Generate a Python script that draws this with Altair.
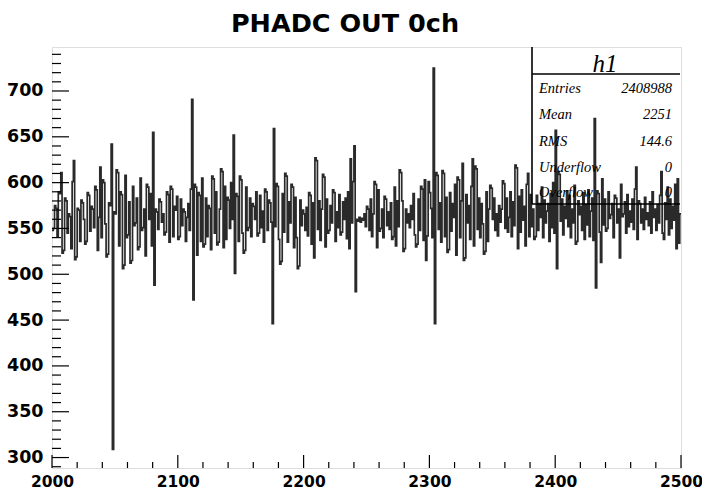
import altair as alt
import pandas as pd

# ---- data (bin lower edges 2000..2499, contents) ----
counts = [
    548, 550, 575, 572, 541, 590, 588, 611, 523, 526,
    583, 580, 545, 566, 563, 528, 601, 624, 516, 519,
    572, 570, 536, 581, 578, 560, 533, 536, 589, 586,
    547, 574, 571, 551, 596, 592, 526, 562, 617, 540,
    603, 600, 555, 519, 522, 578, 575, 642, 309, 568,
    566, 614, 611, 531, 590, 587, 506, 510, 608, 540,
    543, 579, 512, 515, 596, 553, 556, 583, 527, 530,
    605, 548, 551, 571, 520, 598, 595, 560, 588, 531,
    655, 488, 571, 568, 549, 582, 579, 557, 566, 543,
    546, 590, 587, 535, 596, 593, 541, 574, 570, 585,
    538, 541, 582, 553, 571, 568, 536, 562, 577, 548,
    593, 691, 472, 598, 595, 521, 589, 586, 536, 605,
    530, 533, 583, 541, 575, 572, 527, 607, 604, 545,
    590, 532, 535, 571, 615, 612, 529, 596, 538, 584,
    581, 550, 600, 560, 652, 501, 588, 585, 536, 607,
    603, 545, 523, 526, 595, 548, 551, 583, 541, 577,
    574, 560, 590, 542, 545, 586, 551, 569, 535, 593,
    590, 548, 581, 578, 557, 446, 659, 552, 599, 596,
    538, 511, 514, 588, 546, 610, 607, 535, 579, 556,
    598, 595, 529, 584, 540, 506, 509, 581, 553, 570,
    566, 548, 573, 542, 589, 586, 533, 578, 518, 627,
    624, 549, 580, 537, 571, 609, 606, 530, 582, 545,
    548, 575, 556, 592, 589, 536, 568, 551, 587, 543,
    546, 579, 560, 583, 539, 590, 528, 626, 556, 601,
    640, 481, 560, 558, 562, 557, 561, 559, 566, 552,
    574, 571, 548, 582, 541, 566, 601, 598, 529, 592,
    547, 550, 571, 540, 585, 582, 553, 568, 549, 578,
    538, 541, 595, 531, 580, 552, 614, 611, 580, 525,
    528, 571, 556, 566, 551, 575, 560, 588, 543, 530,
    533, 582, 548, 596, 593, 537, 603, 515, 542, 601,
    589, 572, 540, 725, 446, 611, 608, 549, 578, 535,
    613, 610, 541, 584, 524, 527, 589, 547, 577, 562,
    598, 521, 606, 603, 540, 580, 621, 515, 518, 587,
    556, 575, 538, 596, 626, 531, 618, 615, 549, 583,
    540, 577, 555, 522, 525, 590, 536, 571, 597, 594,
    560, 583, 548, 566, 542, 575, 557, 571, 602, 599,
    550, 583, 546, 562, 590, 541, 579, 553, 619, 616,
    528, 585, 546, 592, 559, 574, 531, 598, 610, 541,
    587, 552, 571, 538, 541, 586, 548, 577, 562, 595,
    540, 581, 556, 569, 577, 536, 588, 551, 600, 545,
    657, 506, 612, 609, 558, 582, 543, 574, 561, 591,
    552, 586, 540, 571, 556, 597, 533, 536, 580, 565,
    574, 548, 589, 538, 576, 554, 592, 541, 569, 583,
    537, 670, 485, 591, 588, 546, 513, 604, 554, 582,
    547, 550, 590, 561, 565, 577, 540, 586, 583, 556,
    571, 518, 598, 563, 566, 579, 545, 587, 552, 569,
    557, 582, 549, 593, 617, 538, 580, 577, 556, 571,
    549, 584, 560, 567, 553, 579, 545, 590, 562, 571,
    548, 576, 556, 586, 612, 545, 538, 578, 560, 595,
    543, 582, 550, 574, 559, 598, 528, 604, 534, 566,
]
x_start = 2000
x_end = 2500
bin_edges = list(range(x_start, x_start + len(counts)))

title_text = "PHADC OUT 0ch"
stat_names = ["Entries", "Mean", "RMS", "Underflow", "Overflow"]
stat_values = ["2408988", "2251", "144.6", "0", "0"]
hist_name = "h1"

x_major = [2000, 2100, 2200, 2300, 2400, 2500]
x_minor = [v for v in range(2000, 2501, 20) if v not in x_major]
y_major = [300, 350, 400, 450, 500, 550, 600, 650, 700]
y_minor = [v for v in range(290, 750, 10) if v not in y_major]
y_domain = [288.6, 748]

W, H = 629, 421

# step line needs closing point at the upper edge of last bin
hist_df = pd.DataFrame({"x": bin_edges + [x_start + len(counts)], "y": counts + [counts[-1]]})

xs = alt.Scale(domain=[x_start, x_end], nice=False, zero=False)
ys = alt.Scale(domain=y_domain, nice=False, zero=False)

lab_font = "DejaVu Sans"

hist = alt.Chart(hist_df).mark_line(
    interpolate="step-after", color="#2a2a2a", strokeWidth=1.7, clip=True
).encode(
    x=alt.X("x:Q", scale=xs,
            axis=alt.Axis(values=x_major, title=None, tickSize=0, domain=False, grid=False,
                          labelFont=lab_font, labelFontWeight="bold", labelFontSize=15.5,
                          labelColor="black", labelPadding=6, format="d", labelFlush=False)),
    y=alt.Y("y:Q", scale=ys,
            axis=alt.Axis(values=y_major, title=None, tickSize=0, domain=False, grid=False,
                          labelFont=lab_font, labelFontWeight="bold", labelFontSize=17.5,
                          labelColor="black", labelPadding=9, format="d")),
)

ymaj = alt.Chart(pd.DataFrame({"v": y_major})).mark_rule(color="black", strokeWidth=1.2).encode(
    y=alt.Y("v:Q", scale=ys), x=alt.value(0), x2=alt.value(17))
ymin = alt.Chart(pd.DataFrame({"v": y_minor})).mark_rule(color="black", strokeWidth=1.2).encode(
    y=alt.Y("v:Q", scale=ys), x=alt.value(0), x2=alt.value(9))
xmaj = alt.Chart(pd.DataFrame({"v": x_major})).mark_rule(color="black", strokeWidth=1.2).encode(
    x=alt.X("v:Q", scale=xs), y=alt.value(H), y2=alt.value(H - 13))
xmin = alt.Chart(pd.DataFrame({"v": x_minor})).mark_rule(color="black", strokeWidth=1.2).encode(
    x=alt.X("v:Q", scale=xs), y=alt.value(H), y2=alt.value(H - 6))

# stats box (pixel positions inside the plot area)
bx0, bx1, by0, byh, by1 = 480, 628, 0, 27, 157
box_lines = pd.DataFrame({
    "x": [bx0, bx0, bx0], "x2": [bx1, bx0, bx1],
    "y": [byh, by0, by1], "y2": [byh, by1, by1],
})
box = alt.Chart(box_lines).mark_rule(color="black", strokeWidth=1.6).encode(
    x=alt.X("x:Q", scale=None), x2="x2:Q", y=alt.Y("y:Q", scale=None), y2="y2:Q")

row_y = [46, 72, 99, 125, 150]
stats_df = pd.DataFrame({"name": stat_names, "val": stat_values, "py": row_y})
stat_lab = alt.Chart(stats_df).mark_text(
    align="left", baseline="alphabetic", font="Liberation Serif", fontStyle="italic",
    fontSize=14.5, color="black").encode(
    x=alt.value(487), y=alt.Y("py:Q", scale=None), text="name:N")
stat_val = alt.Chart(stats_df).mark_text(
    align="right", baseline="alphabetic", font="Liberation Serif", fontStyle="italic",
    fontSize=14.5, color="black").encode(
    x=alt.value(620), y=alt.Y("py:Q", scale=None), text="val:N")
hname = alt.Chart(pd.DataFrame({"t": [hist_name]})).mark_text(
    align="center", baseline="alphabetic", font="Liberation Serif", fontStyle="italic",
    fontSize=25, color="black").encode(
    x=alt.value(553), y=alt.value(25), text="t:N")

title = alt.Chart(pd.DataFrame({"t": [title_text]})).mark_text(
    align="center", baseline="alphabetic", font=lab_font, fontWeight="bold",
    fontSize=25.5, color="black").encode(
    x=alt.value(293), y=alt.value(-15), text="t:N")

chart = alt.layer(hist, ymaj, ymin, xmaj, xmin, box, stat_lab, stat_val, hname, title).properties(
    width=W, height=H,
    autosize=alt.AutoSizeParams(type="none"),
    padding={"left": 52, "top": 47, "right": 21, "bottom": 29},
).configure_view(stroke="black", strokeWidth=1.6).configure(background="white")

chart.save("out.html", embed_options={"renderer": "svg", "actions": False})
